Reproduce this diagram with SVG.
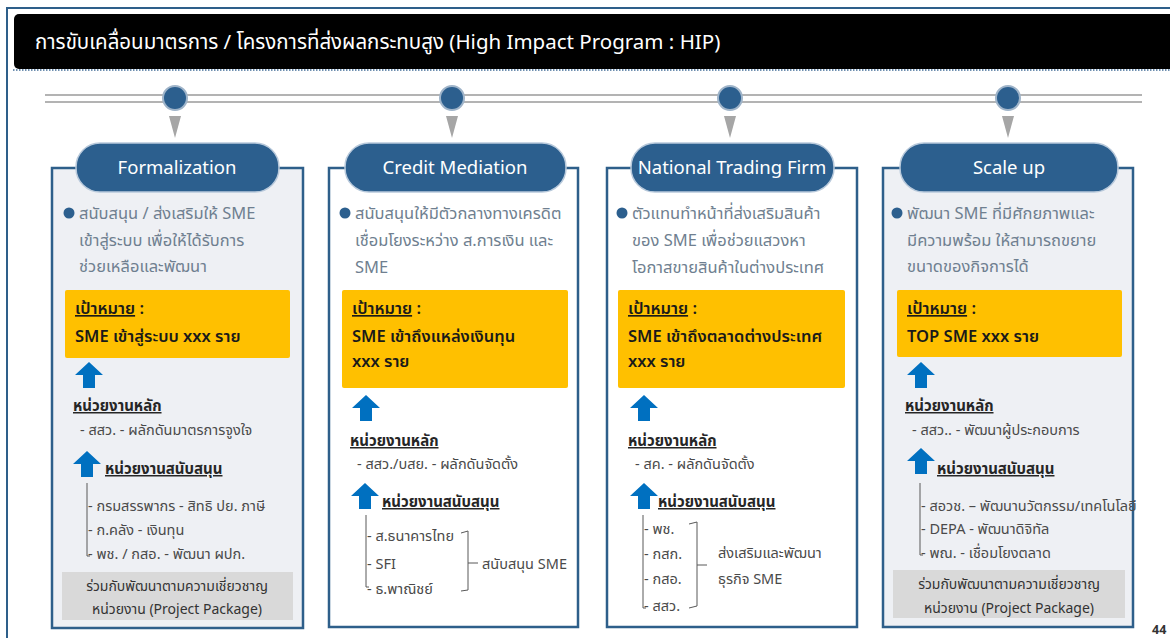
<svg xmlns="http://www.w3.org/2000/svg" width="1170" height="638" viewBox="0 0 1170 638">
<defs>
<style>
.t{font-family:"Noto Sans Thai","Leelawadee UI",Tahoma,"Noto Sans","DejaVu Sans",sans-serif;}
.title{fill:#fff;font-size:20.5px;}
.pill{fill:#2c5f8e;stroke:#b8c9db;stroke-width:1.5;}
.pilltxt{fill:#fff;font-size:18.5px;text-anchor:middle;}
.panel{stroke:#2e5f8a;stroke-width:2.5;}
.g{fill:#eef0f4;}
.w{fill:#ffffff;}
.desc{fill:#6f7f90;font-size:16.5px;}
.yel{fill:#ffc000;}
.yt{fill:#1a1a1a;font-size:16.5px;font-weight:600;}
.hd{fill:#262626;font-size:15px;font-weight:bold;text-decoration:underline;}
.it{fill:#4a4a4a;font-size:14.5px;}
.gb{fill:#d9d9d9;}
.gbt{fill:#333;font-size:14px;text-anchor:middle;}
.ln{stroke:#595959;stroke-width:1;fill:none;}
.dot{fill:#2c5f8e;}
</style>
<path id="arr" d="M14,0 L28,13 L20,13 L20,26 L8,26 L8,13 L0,13 Z" fill="#0070c0"/>
</defs>
<rect width="1170" height="638" fill="#fff"/>
<!-- page frame -->
<path d="M7,638 L7,8 L1170,8" fill="none" stroke="#2e5f8a" stroke-width="2"/>
<rect x="14" y="14" width="1170" height="55" rx="5" fill="#000"/>
<line x1="13" y1="70" x2="1170" y2="70" stroke="#6f8fb0" stroke-width="2" stroke-dasharray="1.5,1.5"/>
<text class="t title" x="35" y="49">การขับเคลื่อนมาตรการ / โครงการที่ส่งผลกระทบสูง (High Impact Program : HIP)</text>

<!-- timeline -->
<g id="timeline">
<line x1="45" y1="95" x2="1142" y2="95" stroke="#b3b3b3" stroke-width="2"/>
<line x1="45" y1="102" x2="1142" y2="102" stroke="#b3b3b3" stroke-width="2"/>
<g fill="#2c5f8e" stroke="#9fb4c9" stroke-width="2">
<circle cx="175" cy="98" r="12"/>
<circle cx="452" cy="98" r="12"/>
<circle cx="730" cy="98" r="12"/>
<circle cx="1008" cy="98" r="12"/>
</g>
<g fill="#a6a6a6">
<polygon points="169,116 181,116 175,138"/>
<polygon points="446,116 458,116 452,138"/>
<polygon points="724,116 736,116 730,138"/>
<polygon points="1002,116 1014,116 1008,138"/>
</g>
</g>

<!-- Column 1 -->
<g id="formalization">
<rect class="panel g" x="52" y="168" width="251" height="460"/>
<rect class="pill" x="76" y="143" width="203" height="49" rx="24"/>
<text class="t pilltxt" x="177" y="174">Formalization</text>
<circle class="dot" cx="69" cy="213" r="5.5"/>
<text class="t desc" x="79" y="219">สนับสนุน / ส่งเสริมให้ SME</text>
<text class="t desc" x="79" y="246">เข้าสู่ระบบ เพื่อให้ได้รับการ</text>
<text class="t desc" x="79" y="272">ช่วยเหลือและพัฒนา</text>
<rect class="yel" x="65" y="290" width="225" height="68" rx="2"/>
<text class="t yt" x="75" y="314"><tspan text-decoration="underline">เป้าหมาย</tspan> :</text>
<text class="t yt" x="75" y="342">SME เข้าสู่ระบบ xxx ราย</text>
<use href="#arr" x="75" y="362"/>
<text class="t hd" x="73" y="411">หน่วยงานหลัก</text>
<text class="t it" x="80" y="435">- สสว. - ผลักดันมาตรการจูงใจ</text>
<use href="#arr" x="73" y="451"/>
<text class="t hd" x="105" y="474">หน่วยงานสนับสนุน</text>
<path class="ln" d="M87,483 L87,556 L90,556"/>
<text class="t it" x="88" y="511">- กรมสรรพากร - สิทธิ ปย. ภาษี</text>
<text class="t it" x="88" y="535">- ก.คลัง - เงินทุน</text>
<text class="t it" x="88" y="559">- พช. / กสอ. - พัฒนา ผปก.</text>
<rect class="gb" x="62" y="572" width="231" height="48"/>
<text class="t gbt" x="177" y="591">ร่วมกับพัฒนาตามความเชี่ยวชาญ</text>
<text class="t gbt" x="177" y="614">หน่วยงาน (Project Package)</text>
</g>

<!-- Column 2 -->
<g id="credit-mediation">
<rect class="panel w" x="329" y="168" width="249" height="459"/>
<rect class="pill" x="345" y="143" width="221" height="49" rx="24"/>
<text class="t pilltxt" x="455" y="174">Credit Mediation</text>
<circle class="dot" cx="345" cy="213" r="5.5"/>
<text class="t desc" x="355" y="219">สนับสนุนให้มีตัวกลางทางเครดิต</text>
<text class="t desc" x="355" y="246">เชื่อมโยงระหว่าง ส.การเงิน และ</text>
<text class="t desc" x="355" y="273">SME</text>
<rect class="yel" x="342" y="290" width="226" height="98" rx="2"/>
<text class="t yt" x="352" y="314"><tspan text-decoration="underline">เป้าหมาย</tspan> :</text>
<text class="t yt" x="352" y="342">SME เข้าถึงแหล่งเงินทุน</text>
<text class="t yt" x="352" y="367">xxx ราย</text>
<use href="#arr" x="352" y="395"/>
<text class="t hd" x="350" y="446">หน่วยงานหลัก</text>
<text class="t it" x="357" y="469">- สสว./บสย. - ผลักดันจัดตั้ง</text>
<use href="#arr" x="351" y="483"/>
<text class="t hd" x="382" y="507">หน่วยงานสนับสนุน</text>
<path class="ln" d="M366,515 L366,587 L369,587"/>
<text class="t it" x="367" y="541">- ส.ธนาคารไทย</text>
<text class="t it" x="367" y="569">- SFI</text>
<text class="t it" x="367" y="594">- ธ.พาณิชย์</text>
<path class="ln" d="M461,533 L468,531 L468,590 L461,591 M468,563 L478,563"/>
<text class="t it" x="482" y="569">สนับสนุน SME</text>
</g>

<!-- Column 3 -->
<g id="national-trading-firm">
<rect class="panel w" x="607" y="168" width="250" height="459"/>
<rect class="pill" x="631" y="143" width="203" height="49" rx="24"/>
<text class="t pilltxt" x="732" y="174">National Trading Firm</text>
<circle class="dot" cx="622" cy="213" r="5.5"/>
<text class="t desc" x="632" y="219">ตัวแทนทำหน้าที่ส่งเสริมสินค้า</text>
<text class="t desc" x="632" y="246">ของ SME เพื่อช่วยแสวงหา</text>
<text class="t desc" x="632" y="273">โอกาสขายสินค้าในต่างประเทศ</text>
<rect class="yel" x="618" y="290" width="227" height="98" rx="2"/>
<text class="t yt" x="628" y="314"><tspan text-decoration="underline">เป้าหมาย</tspan> :</text>
<text class="t yt" x="628" y="342">SME เข้าถึงตลาดต่างประเทศ</text>
<text class="t yt" x="628" y="367">xxx ราย</text>
<use href="#arr" x="630" y="395"/>
<text class="t hd" x="628" y="446">หน่วยงานหลัก</text>
<text class="t it" x="635" y="469">- สค. - ผลักดันจัดตั้ง</text>
<use href="#arr" x="630" y="483"/>
<text class="t hd" x="658" y="507">หน่วยงานสนับสนุน</text>
<path class="ln" d="M643,515 L643,608 L646,608"/>
<text class="t it" x="644" y="534">- พช.</text>
<text class="t it" x="644" y="559">- กสก.</text>
<text class="t it" x="644" y="584">- กสอ.</text>
<text class="t it" x="644" y="611">- สสว.</text>
<path class="ln" d="M689,524 L697,522 L697,606 L689,608 M697,565 L707,565"/>
<text class="t it" x="718" y="558">ส่งเสริมและพัฒนา</text>
<text class="t it" x="718" y="584">ธุรกิจ SME</text>
</g>

<!-- Column 4 -->
<g id="scale-up">
<rect class="panel g" x="883" y="168" width="250" height="459"/>
<rect class="pill" x="900" y="143" width="218" height="49" rx="24"/>
<text class="t pilltxt" x="1009" y="174">Scale up</text>
<circle class="dot" cx="897" cy="213" r="5.5"/>
<text class="t desc" x="907" y="219">พัฒนา SME ที่มีศักยภาพและ</text>
<text class="t desc" x="907" y="246">มีความพร้อม ให้สามารถขยาย</text>
<text class="t desc" x="907" y="272">ขนาดของกิจการได้</text>
<rect class="yel" x="897" y="290" width="225" height="67" rx="2"/>
<text class="t yt" x="907" y="314"><tspan text-decoration="underline">เป้าหมาย</tspan> :</text>
<text class="t yt" x="907" y="342">TOP SME xxx ราย</text>
<use href="#arr" x="907" y="362"/>
<text class="t hd" x="905" y="411">หน่วยงานหลัก</text>
<text class="t it" x="912" y="435">- สสว.. - พัฒนาผู้ประกอบการ</text>
<use href="#arr" x="907" y="448"/>
<text class="t hd" x="937" y="474">หน่วยงานสนับสนุน</text>
<path class="ln" d="M920,483 L920,555 L923,555"/>
<text class="t it" x="921" y="511">- สอวช. – พัฒนานวัตกรรม/เทคโนโลยี</text>
<text class="t it" x="921" y="534">- DEPA - พัฒนาดิจิทัล</text>
<text class="t it" x="921" y="558">- พณ. - เชื่อมโยงตลาด</text>
<rect class="gb" x="893" y="570" width="232" height="48"/>
<text class="t gbt" x="1009" y="589">ร่วมกับพัฒนาตามความเชี่ยวชาญ</text>
<text class="t gbt" x="1009" y="613">หน่วยงาน (Project Package)</text>
</g>

<text class="t" x="1152" y="634" font-size="12.5" font-weight="bold" fill="#333">44</text>
</svg>
